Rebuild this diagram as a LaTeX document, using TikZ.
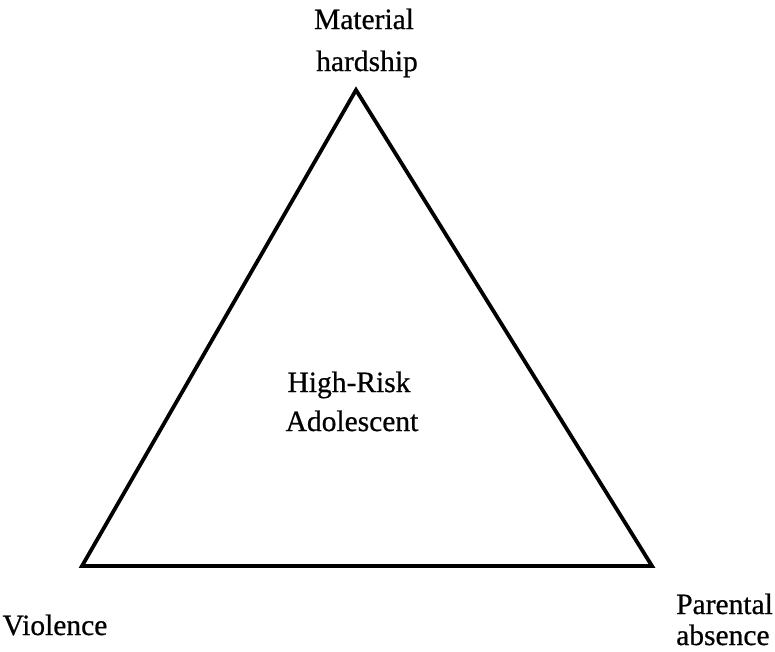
\documentclass[tikz,border=0pt]{standalone}
\usepackage{fontspec}
\setmainfont{Liberation Serif}[FakeBold=0.6]
\begin{document}
\begin{tikzpicture}[x=1pt,y=-1pt,
  edge/.style={line width=3.8pt,line join=miter},
  lbl/.style={font=\fontsize{29.5}{40}\selectfont,align=center,inner sep=0pt}]
\useasboundingbox (0,0) rectangle (775,651);
% triangle corners
\coordinate (top) at (356,90);
\coordinate (bl) at (82,566);
\coordinate (br) at (652,566);
\draw[edge] (top) -- (bl) -- (br) -- cycle;
% labels
\node[lbl,anchor=base] (mat) at (364,29) {Material};
\node[lbl,anchor=base] (hard) at (367,71) {hardship};
\node[lbl,anchor=base] (hr) at (349,392) {High-Risk};
\node[lbl,anchor=base] (ado) at (352,431) {Adolescent};
\node[lbl,anchor=base] (vio) at (55,635) {Violence};
\node[lbl,anchor=base west] (par) at (676,614) {Parental};
\node[lbl,anchor=base west] (abs) at (676,645) {absence};
\end{tikzpicture}
\end{document}
